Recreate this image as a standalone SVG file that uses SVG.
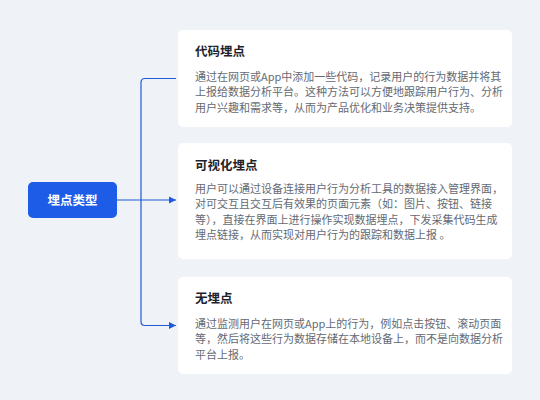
<svg xmlns="http://www.w3.org/2000/svg" width="540" height="400" viewBox="0 0 540 400">
<style>
.card{fill:#ffffff}
.title{font-family:"Noto Sans CJK SC","Noto Sans",sans-serif;font-size:12.5px;font-weight:700;fill:#1f2329}
.body{font-family:"Noto Sans CJK SC","Noto Sans",sans-serif;font-size:11px;fill:#646a73}
.conn{fill:none;stroke:#1f5ad8;stroke-width:1.2}
.root-text{font-family:"Noto Sans CJK SC","Noto Sans",sans-serif;font-size:12.5px;font-weight:700;fill:#ffffff}
</style>
<defs>
<marker id="arr" viewBox="0 0 10 10" refX="10" refY="5" markerWidth="7" markerHeight="8" markerUnits="userSpaceOnUse" orient="auto">
<path d="M0,0 L10,5 L0,10 z" fill="#1f5ad8"/>
</marker>
</defs>
<rect x="0" y="0" width="540" height="400" fill="#eff2f6"/>
<g id="connectors">
<path class="conn" d="M117,200 H176" marker-end="url(#arr)"/>
<path class="conn" d="M176,78.5 H145 Q141,78.5 141,82.5 V321.5 Q141,325.5 145,325.5 H176" marker-end="url(#arr)"/>
</g>
<g id="root">
<rect x="28" y="182" width="89" height="36" rx="5" fill="#1d5ce6"/>
<text class="root-text" x="72.5" y="204.5" text-anchor="middle">埋点类型</text>
</g>
<g id="card-code">
<rect class="card" x="178" y="30" width="334" height="97" rx="5"/>
<text class="title" x="195" y="56">代码埋点</text>
<text class="body" x="195" y="80.5">通过在网页或App中添加一些代码，记录用户的行为数据并将其</text>
<text class="body" x="195" y="96">上报给数据分析平台。这种方法可以方便地跟踪用户行为、分析</text>
<text class="body" x="195" y="111.5">用户兴趣和需求等，从而为产品优化和业务决策提供支持。</text>
</g>
<g id="card-visual">
<rect class="card" x="178" y="143" width="334" height="116" rx="5"/>
<text class="title" x="195" y="169.5">可视化埋点</text>
<text class="body" x="195" y="192.5">用户可以通过设备连接用户行为分析工具的数据接入管理界面，</text>
<text class="body" x="195" y="208">对可交互且交互后有效果的页面元素（如：图片、按钮、链接</text>
<text class="body" x="195" y="223.5">等），直接在界面上进行操作实现数据埋点，下发采集代码生成</text>
<text class="body" x="195" y="239">埋点链接，从而实现对用户行为的跟踪和数据上报 。</text>
</g>
<g id="card-none">
<rect class="card" x="178" y="277" width="334" height="97" rx="5"/>
<text class="title" x="195" y="303">无埋点</text>
<text class="body" x="195" y="327.5">通过监测用户在网页或App上的行为，例如点击按钮、滚动页面</text>
<text class="body" x="195" y="343">等，然后将这些行为数据存储在本地设备上，而不是向数据分析</text>
<text class="body" x="195" y="358.5">平台上报。</text>
</g>
</svg>
